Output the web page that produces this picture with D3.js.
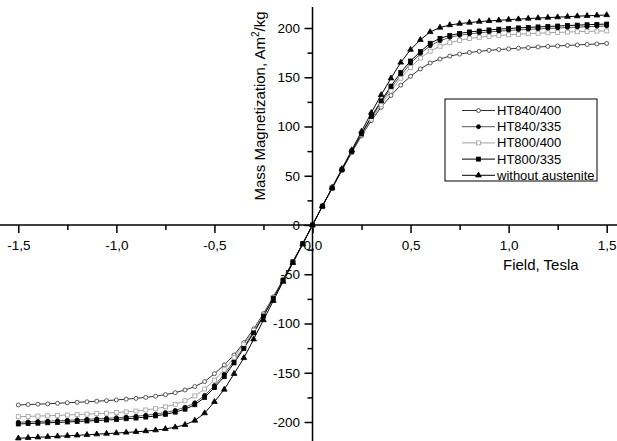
<!DOCTYPE html>
<html lang="en">
<head>
<meta charset="UTF-8">
<title>Mass Magnetization vs Field</title>
<script src="https://d3js.org/d3.v7.min.js"></script>
<style>
  body { margin: 0; background: #fff; }
  svg { display: block; font-family: Arial, "Liberation Sans", sans-serif; }
  .tick text { font-size: 13.5px; fill: #000; }
</style>
</head>
<body>
<svg id="chart" width="617" height="441"></svg>
<script>
// field, Tesla
const field = [-1.5, -1.45, -1.4, -1.35, -1.3, -1.25, -1.2, -1.15, -1.1, -1.05, -1.0, -0.95, -0.9, -0.85, -0.8, -0.75, -0.7, -0.65, -0.6, -0.55, -0.5, -0.45, -0.4, -0.35, -0.3, -0.25, -0.2, -0.15, -0.1, -0.05,
  0, 0.05, 0.1, 0.15, 0.2, 0.25, 0.3, 0.35, 0.4, 0.45, 0.5, 0.55, 0.6, 0.65, 0.7, 0.75, 0.8, 0.85, 0.9, 0.95, 1.0, 1.05, 1.1, 1.15, 1.2, 1.25, 1.3, 1.35, 1.4, 1.45, 1.5];

// mass magnetization, Am2/kg
const ht840_400 = [-182.7, -182.3, -181.9, -181.5, -181, -180.5, -180, -179.5, -178.9, -178.3, -177.6, -176.8, -176, -175, -173.8, -172.2, -170.2, -167.5, -164, -159, -151, -142, -132, -119.5, -105.5, -90, -73, -55.5, -37, -19,
  0, 19, 37, 55.5, 73.5, 90.5, 106, 119.5, 131.5, 142, 151, 158.5, 164.5, 168.5, 171.5, 173.5, 175.1, 176.3, 177.3, 178.1, 178.8, 179.5, 180.1, 180.7, 181.3, 181.8, 182.3, 182.8, 183.3, 183.8, 184.3];
const ht840_335 = [-200.3, -199.9, -199.5, -199.1, -198.7, -198.3, -197.8, -197.3, -196.8, -196.3, -195.7, -195, -194.2, -193.2, -192, -190.4, -188.2, -185, -180.5, -173, -163, -151.5, -138, -124, -108.5, -92, -74, -56, -37.5, -19,
  0, 19, 37.5, 56, 74, 92, 109, 124.5, 139, 152, 164, 174, 182, 187, 190.5, 192.6, 194, 195.1, 196, 196.8, 197.5, 198.1, 198.6, 199.1, 199.6, 200, 200.5, 200.9, 201.3, 201.7, 202];
const ht800_400 = [-194.6, -194.3, -194, -193.7, -193.3, -192.9, -192.5, -192, -191.5, -191, -190.4, -189.7, -188.9, -187.8, -186.5, -184.6, -182, -178.5, -173.5, -166.5, -157.5, -147, -134.5, -121, -107, -91.5, -74, -56, -37.5, -19,
  0, 19, 37.5, 56, 74, 91.5, 107.5, 122, 136, 149, 160, 169.5, 176.5, 181.5, 185, 187.5, 189.3, 190.6, 191.6, 192.4, 193.1, 193.7, 194.2, 194.7, 195.1, 195.5, 195.9, 196.2, 196.5, 196.8, 197];
const ht800_335 = [-202, -201.6, -201.2, -200.8, -200.4, -200, -199.5, -199, -198.5, -198, -197.4, -196.7, -196, -195, -193.8, -192.2, -190, -187, -182.5, -175, -165, -154, -140, -125.5, -109.5, -92.5, -74.5, -56, -37.5, -19,
  0, 19, 37.5, 56, 74.5, 92.5, 110, 126, 141, 155, 166.5, 176, 184.5, 189.5, 192.5, 194.5, 196, 197, 198, 198.8, 199.5, 200.1, 200.6, 201.1, 201.6, 202, 202.5, 202.9, 203.3, 203.7, 204];
const noAustenite = [-216.5, -216, -215.5, -215, -214.5, -214, -213.5, -213, -212.4, -211.8, -211.2, -210.6, -210, -209.2, -208.3, -207, -205.3, -202.8, -198.5, -191, -179.5, -167, -151, -135, -116, -96.5, -77, -57.5, -38.5, -19.5,
  0, 19, 38, 57, 76, 95, 114, 132, 149, 165, 178, 188, 196, 200.5, 203, 204.5, 205.5, 206.5, 207.2, 207.8, 208.5, 209, 209.6, 210.1, 210.6, 211, 211.5, 212, 212.4, 212.8, 213.2];

const xMajor = [-1.5, -1.0, -0.5, 0, 0.5, 1.0, 1.5];
const xMinor = [-1.25, -0.75, -0.25, 0.25, 0.75, 1.25];
const yMajor = [-200, -150, -100, -50, 0, 50, 100, 150, 200];
const yMinor = [-175, -125, -75, -25, 25, 75, 125, 175];

const series = [
  { name: "HT840/400", values: ht840_400, line: "#333", marker: "circle", fill: "#fff", stroke: "#333" },
  { name: "HT840/335", values: ht840_335, line: "#555", marker: "circle", fill: "#000", stroke: "#000" },
  { name: "HT800/400", values: ht800_400, line: "#a0a0a0", marker: "square", fill: "#fff", stroke: "#a0a0a0" },
  { name: "HT800/335", values: ht800_335, line: "#000", marker: "square", fill: "#000", stroke: "#000" },
  { name: "without austenite", values: noAustenite, line: "#000", marker: "triangle", fill: "#000", stroke: "#000" }
];

const W = 617, H = 441;
const svg = d3.select("#chart");

const x = d3.scaleLinear().domain([-1.5, 1.5]).range([18.3, 606.7]);
const y = d3.scaleLinear().domain([-200, 200]).range([422, 28]);

const loc = d3.formatLocale({ decimal: ",", thousands: ".", grouping: [3], currency: ["", ""], minus: "-" });

// X axis
const gx = svg.append("g").attr("transform", "translate(0," + y(0) + ")");
gx.append("g").call(d3.axisBottom(x).tickValues(xMajor).tickSize(8).tickPadding(7).tickFormat(loc.format(".1f")));
gx.append("g").call(d3.axisBottom(x).tickValues(xMinor).tickSize(5).tickFormat(""));
gx.selectAll(".domain").remove();
gx.append("line").attr("x1", 0).attr("x2", W).attr("stroke", "#000").attr("stroke-width", 1.5);
gx.selectAll(".tick line").attr("stroke-width", 1.5);

// Y axis
const gy = svg.append("g").attr("transform", "translate(" + x(0) + ",0)");
gy.append("g").call(d3.axisLeft(y).tickValues(yMajor).tickSize(8).tickPadding(4.5).tickFormat(loc.format("d")));
gy.append("g").call(d3.axisLeft(y).tickValues(yMinor).tickSize(5).tickFormat(""));
gy.selectAll(".domain").remove();
gy.append("line").attr("y1", 7).attr("y2", H).attr("stroke", "#000").attr("stroke-width", 1.5);
gy.selectAll(".tick line").attr("stroke-width", 1.5);

// axis titles
svg.append("text")
  .attr("x", 503).attr("y", 270)
  .style("font-size", "15px")
  .text("Field, Tesla");

const yt = svg.append("text")
  .attr("transform", "translate(265,106) rotate(-90)")
  .attr("text-anchor", "middle")
  .style("font-size", "15px");
yt.append("tspan").text("Mass Magnetization, Am");
yt.append("tspan").attr("dy", -6).style("font-size", "10px").text("2");
yt.append("tspan").attr("dy", 6).text("/kg");

// markers
function drawMarker(sel, s) {
  if (s.marker === "circle") {
    sel.append("circle").attr("r", 2);
  } else if (s.marker === "square") {
    sel.append("rect").attr("x", -2).attr("y", -2).attr("width", 4).attr("height", 4);
  } else {
    sel.append("path").attr("d", d3.symbol().type(d3.symbolTriangle).size(14)());
  }
  sel.selectAll("*").attr("fill", s.fill).attr("stroke", s.stroke).attr("stroke-width", 0.8);
}

const line = d3.line().x((d, i) => x(field[i])).y(d => y(d));

series.forEach(s => {
  svg.append("path")
    .datum(s.values)
    .attr("fill", "none")
    .attr("stroke", s.line)
    .attr("stroke-width", 1)
    .attr("d", line);
});

series.forEach(s => {
  svg.append("g").selectAll("g")
    .data(s.values)
    .enter().append("g")
    .attr("transform", (d, i) => "translate(" + x(field[i]) + "," + y(d) + ")")
    .each(function () { drawMarker(d3.select(this), s); });
});

// legend
const lg = svg.append("g").attr("transform", "translate(445,99)");
lg.append("rect").attr("width", 152).attr("height", 82)
  .attr("fill", "#fff").attr("stroke", "#000").attr("stroke-width", 1);
series.forEach((s, i) => {
  const row = lg.append("g").attr("transform", "translate(0," + (11.5 + i * 16.2) + ")");
  row.append("line").attr("x1", 17).attr("x2", 50).attr("stroke", s.line).attr("stroke-width", 1);
  drawMarker(row.append("g").attr("transform", "translate(33.5,0)"), s);
  row.append("text").attr("x", 52).attr("dy", "0.35em").style("font-size", "13px").text(s.name);
});
</script>
</body>
</html>
